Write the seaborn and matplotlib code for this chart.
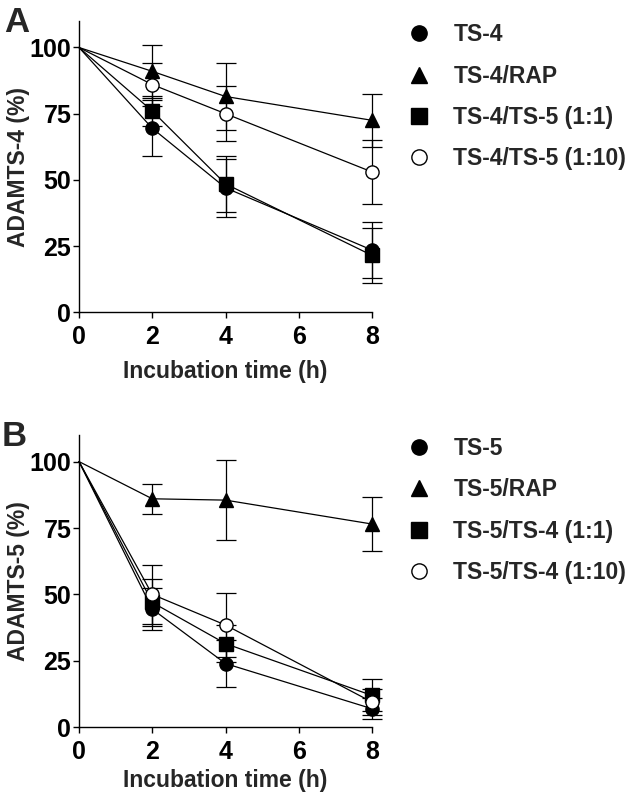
import matplotlib
matplotlib.use("Agg")
import matplotlib.pyplot as plt
from matplotlib.lines import Line2D
import numpy as np
import pandas as pd
import seaborn as sns

# --- data ---
time_h = [0, 2, 4, 8]

# panel A: ADAMTS-4 remaining (%)
a_labels = ["TS-4", "TS-4/RAP", "TS-4/TS-5 (1:1)", "TS-4/TS-5 (1:10)"]
a_ts4 = [100, 69.5, 47.0, 23.5]
a_ts4_sd = [0, 10.5, 11.0, 10.5]
a_ts4_rap = [100, 91.0, 81.5, 72.5]
a_ts4_rap_sd = [0, 10.0, 12.5, 10.0]
a_ts4_ts5_1 = [100, 76.0, 48.5, 21.5]
a_ts4_ts5_1_sd = [0, 5.5, 10.5, 10.5]
a_ts4_ts5_10 = [100, 86.0, 75.0, 53.0]
a_ts4_ts5_10_sd = [0, 8.0, 10.5, 12.0]

# panel B: ADAMTS-5 remaining (%)
b_labels = ["TS-5", "TS-5/RAP", "TS-5/TS-4 (1:1)", "TS-5/TS-4 (1:10)"]
b_ts5 = [100, 44.5, 24.0, 7.0]
b_ts5_sd = [0, 8.0, 9.0, 4.0]
b_ts5_rap = [100, 86.0, 85.5, 76.5]
b_ts5_rap_sd = [0, 5.7, 15.0, 10.0]
b_ts5_ts4_1 = [100, 47.0, 31.5, 12.0]
b_ts5_ts4_1_sd = [0, 9.0, 7.0, 6.0]
b_ts5_ts4_10 = [100, 50.0, 38.5, 9.5]
b_ts5_ts4_10_sd = [0, 11.0, 12.0, 5.0]

y_ticks = [0, 25, 50, 75, 100]
x_ticks = [0, 2, 4, 6, 8]

# marker, face colour per series position
MARKERS = ["o", "^", "s", "o"]
FACES = ["black", "black", "black", "white"]

sns.set_theme(style="ticks")
plt.rcParams.update({
    "font.family": ["Liberation Sans", "DejaVu Sans"],
    "font.weight": "bold",
    "axes.linewidth": 1.0,
    "axes.edgecolor": "black",
})


def long_frame(labels, means, sds):
    rows = []
    for lab, m, s in zip(labels, means, sds):
        for t, mv, sv in zip(time_h, m, s):
            rows.append({"series": lab, "time": t, "value": mv, "sd": sv})
    return pd.DataFrame(rows)


def draw_panel(ax, df, labels, ylabel, xlabelpad):
    for i, lab in enumerate(labels):
        sub = df[df["series"] == lab]
        # no error bar at t=0 (normalised start point)
        eb = sub[sub["time"] > 0]
        ax.errorbar(eb["time"], eb["value"], yerr=eb["sd"], fmt="none",
                    ecolor="black", elinewidth=0.9, capsize=7.5, capthick=0.9,
                    zorder=2, clip_on=False)
        sns.lineplot(data=sub, x="time", y="value", ax=ax, color="black",
                     linewidth=0.9, marker=MARKERS[i], markersize=9.5,
                     markerfacecolor=FACES[i], markeredgecolor="black",
                     markeredgewidth=1.0, markevery=[1, 2, 3],
                     errorbar=None, legend=False, zorder=3, clip_on=False)

    ax.set_xlim(0, 8)
    ax.set_ylim(0, 110)
    ax.set_xticks(x_ticks)
    ax.set_yticks(y_ticks)
    sns.despine(ax=ax)
    ax.tick_params(axis="both", direction="out", length=4, width=1.0,
                   labelsize=18, colors="black")
    ax.tick_params(axis="x", pad=5)
    ax.tick_params(axis="y", pad=1.5)
    for lbl in ax.get_xticklabels() + ax.get_yticklabels():
        lbl.set_fontweight("bold")
    ax.set_xlabel("Incubation time (h)", fontsize=16.5, fontweight="bold",
                  labelpad=xlabelpad)
    ax.set_ylabel(ylabel, fontsize=16.5, fontweight="bold", labelpad=0)

    handles = [Line2D([], [], linestyle="none", marker=MARKERS[i],
                      markersize=11, markerfacecolor=FACES[i],
                      markeredgecolor="black", markeredgewidth=1.0)
               for i in range(len(labels))]
    return handles


fig = plt.figure(figsize=(6.33, 8.02), dpi=100)
ax_a = fig.add_axes([0.1248, 0.6106, 0.4629, 0.3632])
ax_b = fig.add_axes([0.1248, 0.0931, 0.4629, 0.3645])

df_a = long_frame(a_labels,
                  [a_ts4, a_ts4_rap, a_ts4_ts5_1, a_ts4_ts5_10],
                  [a_ts4_sd, a_ts4_rap_sd, a_ts4_ts5_1_sd, a_ts4_ts5_10_sd])
df_b = long_frame(b_labels,
                  [b_ts5, b_ts5_rap, b_ts5_ts4_1, b_ts5_ts4_10],
                  [b_ts5_sd, b_ts5_rap_sd, b_ts5_ts4_1_sd, b_ts5_ts4_10_sd])

h_a = draw_panel(ax_a, df_a, a_labels, "ADAMTS-4 (%)", xlabelpad=8)
h_b = draw_panel(ax_b, df_b, b_labels, "ADAMTS-5 (%)", xlabelpad=4)

leg_kw = dict(loc="upper left", frameon=False, fontsize=16.5,
              handlelength=1.0, handletextpad=1.0, labelspacing=0.8,
              borderpad=0, borderaxespad=0, bbox_transform=fig.transFigure)
leg_a = ax_a.legend(h_a, a_labels, bbox_to_anchor=(0.644, 0.971), **leg_kw)
leg_b = ax_b.legend(h_b, b_labels, bbox_to_anchor=(0.644, 0.455), **leg_kw)
for leg in (leg_a, leg_b):
    for t in leg.get_texts():
        t.set_fontweight("bold")

fig.text(0.006, 0.992, "A", fontsize=25, fontweight="bold", va="top", ha="left")
fig.text(0.003, 0.476, "B", fontsize=25, fontweight="bold", va="top", ha="left")

fig.savefig("out.png", dpi=100)
